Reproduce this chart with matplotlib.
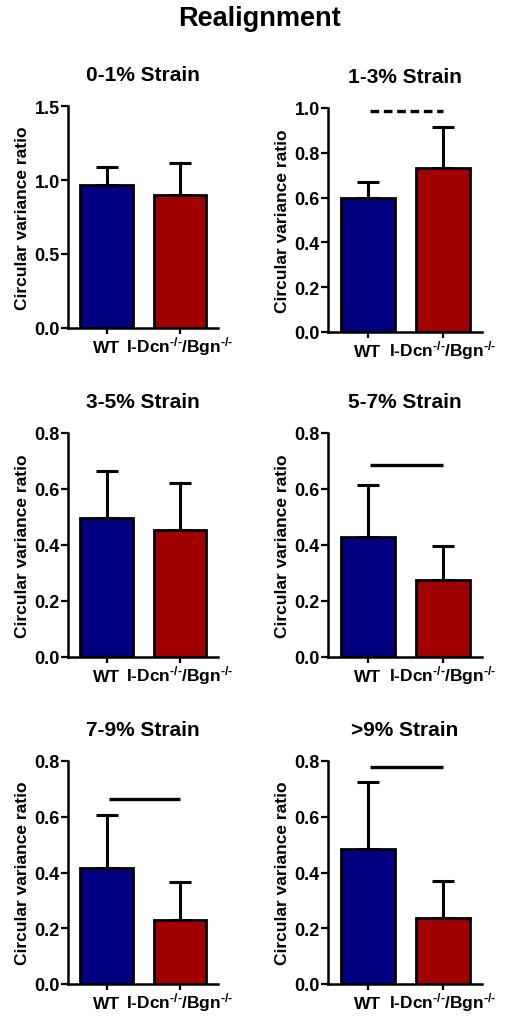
import numpy as np
import matplotlib
matplotlib.use("Agg")
import matplotlib.pyplot as plt

plt.rcParams["font.family"] = ["Liberation Sans", "DejaVu Sans"]
plt.rcParams["font.weight"] = "bold"
plt.rcParams["mathtext.fontset"] = "custom"
plt.rcParams["mathtext.bf"] = "Liberation Sans:bold"
plt.rcParams["mathtext.rm"] = "Liberation Sans:bold"
plt.rcParams["mathtext.default"] = "bf"

# data
strains = ["0-1% Strain", "1-3% Strain", "3-5% Strain", "5-7% Strain", "7-9% Strain", ">9% Strain"]
groups = ["WT", r"I-Dcn$^{\text{-/-}}$/Bgn$^{\text{-/-}}$"]
wt_mean = [0.965, 0.600, 0.495, 0.430, 0.415, 0.485]
wt_err = [0.120, 0.070, 0.170, 0.185, 0.190, 0.240]
ko_mean = [0.900, 0.730, 0.455, 0.275, 0.230, 0.235]
ko_err = [0.215, 0.185, 0.165, 0.120, 0.135, 0.135]
y_max = [1.5, 1.0, 0.8, 0.8, 0.8, 0.8]
y_step = [0.5, 0.2, 0.2, 0.2, 0.2, 0.2]
sig_y = [None, 0.985, None, 0.685, 0.665, 0.78]
sig_dashed = [False, True, False, False, False, False]

colors = ["#000080", "#A00000"]

W, H = 520, 1020
fig = plt.figure(figsize=(W / 100, H / 100), dpi=100)

# axes boxes in pixels: left, top, width, height
boxes = [
    (68, 107, 150, 222), (328, 109, 154, 224),
    (68, 434, 150, 224), (328, 434, 154, 224),
    (68, 762, 150, 223), (328, 762, 154, 223),
]

x = np.arange(len(groups))
for i, (l, t, w, h) in enumerate(boxes):
    ax = fig.add_axes([l / W, 1 - (t + h) / H, w / W, h / H])
    ax.bar(x, [wt_mean[i], ko_mean[i]], width=0.72, color=colors,
           edgecolor="black", linewidth=2.0, zorder=3)
    ax.errorbar(x, [wt_mean[i], ko_mean[i]],
                yerr=[[0, 0], [wt_err[i], ko_err[i]]], fmt="none",
                ecolor="black", elinewidth=2.2, capsize=8, capthick=2.2, zorder=2)
    if sig_y[i] is not None:
        ln, = ax.plot([0.03, 1.0], [sig_y[i], sig_y[i]], color="black",
                      lw=2.4, solid_capstyle="butt", zorder=4)
        if sig_dashed[i]:
            ln.set_dashes((2.6, 1.4))
    ax.set_xlim(-0.53, 1.52)
    ax.set_ylim(0, y_max[i])
    ticks = np.arange(0, y_max[i] + 1e-9, y_step[i])
    ax.set_yticks(ticks)
    ax.set_yticklabels([f"{v:.1f}" for v in ticks], fontsize=13, fontweight="bold")
    ax.set_xticks(x)
    ax.set_xticklabels(groups, fontsize=12.5, fontweight="bold")
    # same baseline for plain and superscripted labels
    for lbl in ax.get_xticklabels():
        lbl.set_verticalalignment("baseline")
    ax.tick_params(axis="y", length=5, width=1.6, pad=1)
    ax.tick_params(axis="x", length=4, width=1.6, pad=13)
    for s in ["top", "right"]:
        ax.spines[s].set_visible(False)
    for s in ["left", "bottom"]:
        ax.spines[s].set_linewidth(1.8)
    ax.set_ylabel("Circular variance ratio", fontsize=12.5, fontweight="bold", labelpad=3)
    ax.set_title(strains[i], fontsize=15, fontweight="bold", pad=19)

fig.text(0.5, 1 - 19 / H, "Realignment", ha="center", va="center",
         fontsize=19.5, fontweight="bold")

fig.savefig("out.png", dpi=100)
